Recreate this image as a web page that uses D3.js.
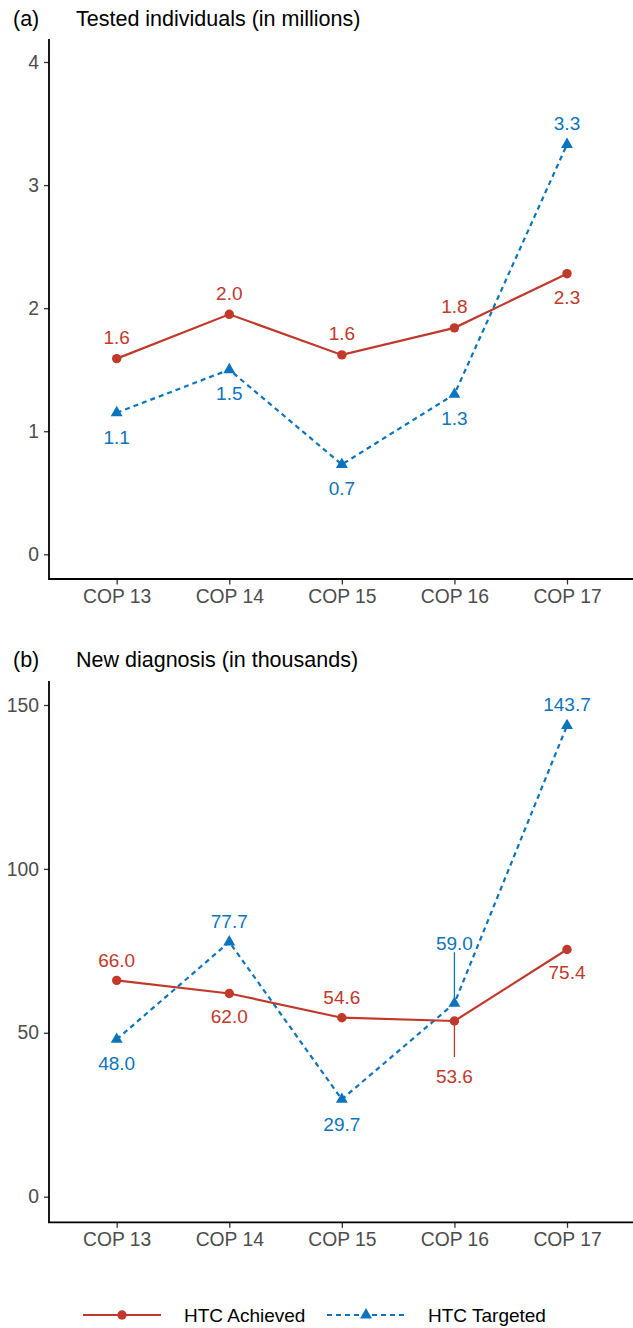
<!DOCTYPE html>
<html><head><meta charset="utf-8">
<script src="https://cdn.jsdelivr.net/npm/d3@7"></script>
<style>body{margin:0;background:#fff;}svg{display:block;font-family:"Liberation Sans",Arial,sans-serif;}</style>
</head><body>
<svg id="c" width="633" height="1328"></svg>
<script>
const categories = ["COP 13","COP 14","COP 15","COP 16","COP 17"];
const testedAchieved = [1.59, 1.95, 1.62, 1.84, 2.28];
const testedTargeted = [1.15, 1.50, 0.73, 1.30, 3.33];
const testedAchievedLabels = ["1.6","2.0","1.6","1.8","2.3"];
const testedTargetedLabels = ["1.1","1.5","0.7","1.3","3.3"];
const diagAchieved = [66.0, 62.0, 54.6, 53.6, 75.4];
const diagTargeted = [48.0, 77.7, 29.7, 59.0, 143.7];
const diagAchievedLabels = ["66.0","62.0","54.6","53.6","75.4"];
const diagTargetedLabels = ["48.0","77.7","29.7","59.0","143.7"];
const testedTicks = [0,1,2,3,4];
const diagTicks = [0,50,100,150];
const seriesNames = ["HTC Achieved","HTC Targeted"];

const RED = "#C0392B", BLUE = "#0C74BC";
const FONT = "Liberation Sans, Arial, sans-serif";
const svg = d3.select("#c");

function panel(opt){
  const g = svg.append("g");
  const x = d3.scalePoint().domain(categories).range([116.7, 567]);
  const y = d3.scaleLinear().domain(opt.domain).range(opt.range);
  g.append("text").attr("x",13).attr("y",opt.titleY).attr("font-size",21.5).attr("fill","#000").text(opt.tag);
  g.append("text").attr("x",76).attr("y",opt.titleY).attr("font-size",21.5).attr("fill","#000").text(opt.title);
  const yAx = g.append("g").attr("transform","translate(49,0)")
    .call(d3.axisLeft(y).tickValues(opt.ticks).tickSize(5).tickPadding(5).tickFormat(d3.format("d")));
  const xAx = g.append("g").attr("transform",`translate(0,${opt.bottom})`)
    .call(d3.axisBottom(x).tickSize(5.5).tickPadding(5));
  [yAx,xAx].forEach(a=>{
    a.select(".domain").remove();
    a.selectAll(".tick line").attr("stroke","#333").attr("stroke-width",1.3);
    a.selectAll(".tick text").attr("fill","#4D4D4D").attr("font-size",19.3).attr("font-family",FONT);
  });
  g.append("line").attr("x1",49).attr("x2",49).attr("y1",opt.top).attr("y2",opt.bottom).attr("stroke","#000").attr("stroke-width",1.8);
  g.append("line").attr("x1",48.1).attr("x2",633).attr("y1",opt.bottom).attr("y2",opt.bottom).attr("stroke","#000").attr("stroke-width",1.8);

  const line = d3.line().x((d,i)=>x(categories[i])).y(d=>y(d));
  g.append("path").datum(opt.tgt).attr("d",line).attr("fill","none").attr("stroke",BLUE).attr("stroke-width",2.2).attr("stroke-dasharray","5,4");
  g.append("path").datum(opt.ach).attr("d",line).attr("fill","none").attr("stroke",RED).attr("stroke-width",2.2);
  const tri = d3.symbol().type(d3.symbolTriangle).size(62);
  g.selectAll(".tri").data(opt.tgt).enter().append("path")
    .attr("d",tri).attr("fill",BLUE)
    .attr("transform",(d,i)=>`translate(${x(categories[i])},${y(d)})`);
  g.selectAll(".dot").data(opt.ach).enter().append("circle")
    .attr("cx",(d,i)=>x(categories[i])).attr("cy",d=>y(d)).attr("r",4.7).attr("fill",RED);
  function labels(vals, labs, offs, color){
    vals.forEach((v,i)=>{
      const px = x(categories[i]), py = y(v), o = offs[i];
      const ly = py + o;
      if (Math.abs(o) > 40){
        const sgn = Math.sign(o);
        const y2 = sgn > 0 ? ly - 19 : ly + 9;
        g.append("line").attr("x1",px).attr("x2",px).attr("y1",py + sgn*(sgn>0?1:3)).attr("y2",y2).attr("stroke",color).attr("stroke-width",1.3);
      }
      g.append("text").attr("x",px).attr("y",ly).attr("dy","0.36em").attr("text-anchor","middle")
        .attr("font-size",19).attr("fill",color).text(labs[i]);
    });
  }
  labels(opt.ach, opt.achL, opt.achOff, RED);
  labels(opt.tgt, opt.tgtL, opt.tgtOff, BLUE);
}

panel({tag:"(a)", title:"Tested individuals (in millions)", titleY:26,
  domain:[0,4], range:[554.3,62], ticks:testedTicks, top:39, bottom:579,
  ach:testedAchieved, tgt:testedTargeted, achL:testedAchievedLabels, tgtL:testedTargetedLabels,
  achOff:[-21.5,-21.5,-21.5,-21.5,23], tgtOff:[24,23.5,23.5,24,-21]});

panel({tag:"(b)", title:"New diagnosis (in thousands)", titleY:667,
  domain:[0,150], range:[1196.7,705], ticks:diagTicks, top:681, bottom:1222.3,
  ach:diagAchieved, tgt:diagTargeted, achL:diagAchievedLabels, tgtL:diagTargetedLabels,
  achOff:[-20,23,-20.5,55,23], tgtOff:[24,-21,24.4,-60,-21]});

const lg = svg.append("g").attr("transform","translate(0,1315)");
lg.append("line").attr("x1",83).attr("x2",161).attr("stroke",RED).attr("stroke-width",2.2);
lg.append("circle").attr("cx",122).attr("cy",0).attr("r",4.7).attr("fill",RED);
lg.append("text").attr("x",184).attr("y",0).attr("dy","0.36em").attr("font-size",19).text(seriesNames[0]);
lg.append("line").attr("x1",327).attr("x2",405).attr("stroke",BLUE).attr("stroke-width",2.2).attr("stroke-dasharray","5,4");
lg.append("path").attr("d",d3.symbol().type(d3.symbolTriangle).size(62)).attr("transform","translate(366,0)").attr("fill",BLUE);
lg.append("text").attr("x",428).attr("y",0).attr("dy","0.36em").attr("font-size",19).text(seriesNames[1]);
</script>
</body></html>
